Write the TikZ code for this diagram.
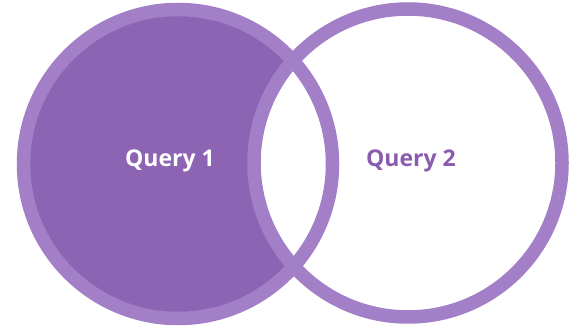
\documentclass[tikz,border=0pt]{standalone}
\usepackage{fontspec}
\setmainfont{Open Sans}
\definecolor{ringc}{HTML}{A27FC6}
\definecolor{fillc}{HTML}{8D63B4}
\definecolor{textc}{HTML}{8A5CB0}
\begin{document}
\begin{tikzpicture}[x=1pt,y=-1pt,
  ring/.style={draw=ringc,line width=13.5pt},
  lbl/.style={font=\fontsize{23}{26}\selectfont\bfseries,inner sep=0pt}]
\useasboundingbox (0,0) rectangle (577,328);
\coordinate (c1) at (178,164);
\coordinate (c2) at (408,163);
\fill[fillc] (c1) circle[radius=160];
\fill[white] (c2) circle[radius=154];
\draw[ring] (c1) circle[radius=154.5];
\draw[ring] (c2) circle[radius=154];
\node[lbl,text=white] (q1) at (170,161) {Query 1};
\node[lbl,text=textc] (q2) at (411,161) {Query 2};
\end{tikzpicture}
\end{document}
